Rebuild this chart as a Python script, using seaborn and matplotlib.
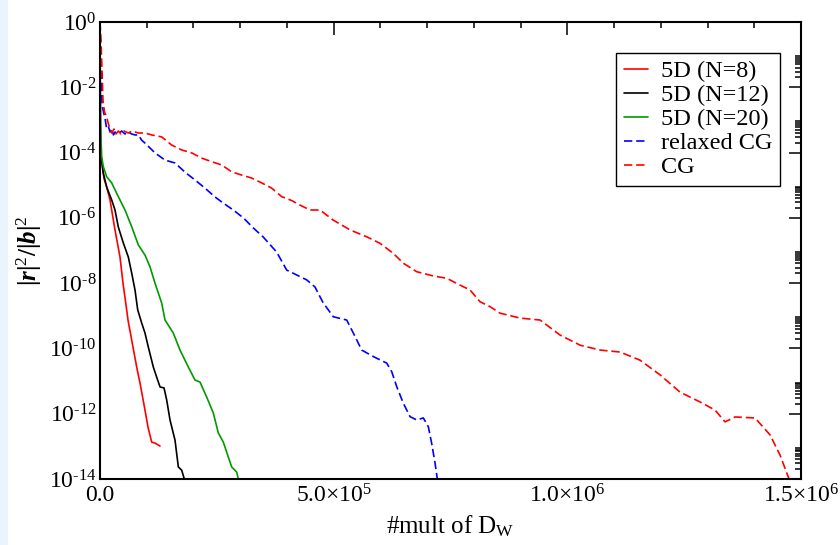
import numpy as np
import pandas as pd
import matplotlib
matplotlib.use("Agg")
import matplotlib.pyplot as plt
import seaborn as sns
from matplotlib.ticker import FixedLocator, MultipleLocator
from matplotlib.patches import Rectangle

# ---------------- data (x = number of D_W multiplications, y = log10 residual) -------------
x_n8 = [0, 1000, 3600, 8600, 14300, 21400, 32100, 42800, 49200, 57100, 59900, 67800,
        78500, 85600, 96300, 102700, 110600, 117700, 128400]
logy_n8 = [0.0, -3.9, -4.3, -4.8, -5.05, -5.45, -6.37, -7.2, -8.0, -8.82, -9.13, -9.74,
           -10.57, -11.06, -11.89, -12.41, -12.87, -12.9, -12.99]

x_n12 = [0, 1200, 7100, 14300, 25000, 32100, 39200, 49900, 60600, 67800, 74900, 80700,
         89200, 96300, 103400, 114100, 121300, 128400, 137000, 142700, 149800, 160500,
         167600, 174800, 180400]
logy_n12 = [0.0, -3.95, -4.63, -5.06, -5.45, -5.76, -6.28, -6.77, -7.2, -7.69, -8.21, -8.82,
            -9.22, -9.53, -9.96, -10.57, -10.88, -11.18, -11.21, -11.58, -12.19, -12.81,
            -13.63, -13.73, -14.0]

x_n20 = [0, 600, 3600, 7100, 14300, 25000, 39200, 53500, 67800, 82000, 96300, 107000,
         117700, 132000, 139100, 156900, 171200, 189000, 203300, 214000, 228300, 242500,
         253200, 263900, 274600, 281800, 292500, 296000]
logy_n20 = [0.0, -3.0, -4.13, -4.43, -4.74, -4.93, -5.35, -5.76, -6.27, -6.83, -7.14, -7.5,
            -8.0, -8.61, -9.13, -9.53, -10.05, -10.57, -10.97, -11.03, -11.49, -11.98,
            -12.59, -12.87, -13.33, -13.63, -13.79, -14.0]

x_rcg = [0, 2100, 4300, 7500, 10700, 13900, 17800, 21400, 25000, 28900, 32100, 38500,
         46400, 53500, 60600, 67800, 74900, 82000, 89200, 96300, 117700, 139100, 160500,
         181900, 203300, 224700, 246100, 263900, 285300, 306700, 328100, 349500, 378100,
         399500, 420900, 442300, 460100, 472300, 477900, 499300, 527900, 542100, 560000,
         584900, 613500, 624200, 634900, 649100, 663400, 677700, 691900, 702600, 709600,
         716900, 721800]
logy_rcg = [0.0, -1.47, -2.54, -2.76, -2.94, -3.25, -3.19, -3.37, -3.28, -3.46, -3.37, -3.43,
            -3.34, -3.43, -3.37, -3.43, -3.46, -3.46, -3.62, -3.71, -4.01, -4.23, -4.32,
            -4.6, -4.84, -5.09, -5.36, -5.55, -5.76, -6.0, -6.31, -6.59, -7.05,
            -7.6, -7.75, -7.9, -8.12, -8.46, -8.61, -9.03, -9.13, -9.53, -10.05,
            -10.25, -10.45, -10.71, -11.17, -11.68, -12.09, -12.19, -12.13, -12.4, -12.9,
            -13.51, -14.0]

x_cg = [0, 2100, 4300, 6400, 9600, 14300, 17800, 21400, 25000, 30000, 34200, 39200, 44900,
        51400, 60600, 68500, 82000, 96300, 110600, 132000, 153400, 174800, 196200, 217600,
        239000, 260400, 281800, 303200, 324600, 346000, 367400, 388800, 410200, 428000,
        449400, 470800, 499300, 535000, 570700, 599200, 627700, 649100, 677700, 713300,
        741900, 770400, 791800, 813200, 834600, 856000, 898800, 941600, 984400, 1027200,
        1070000, 1112800, 1155600, 1198400, 1241200, 1284000, 1316100, 1337500, 1358900,
        1401700, 1433800, 1455200, 1474400]
logy_cg = [0.0, -0.55, -1.47, -2.39, -2.76, -2.91, -3.12, -3.25, -3.40, -3.28, -3.43, -3.34,
           -3.43, -3.34, -3.40, -3.34, -3.40, -3.40, -3.46, -3.52, -3.77, -3.92, -4.01, -4.17,
           -4.28, -4.38, -4.59, -4.69, -4.78, -4.93, -5.09, -5.35, -5.47, -5.61,
           -5.76, -5.76, -6.07, -6.37, -6.58, -6.78, -7.09, -7.39, -7.65, -7.78,
           -7.85, -8.06, -8.21, -8.57, -8.72, -8.92, -9.07, -9.13, -9.59, -9.9,
           -10.05, -10.11, -10.36, -10.81, -11.34, -11.64, -11.89, -12.25, -12.10,
           -12.13, -12.65, -13.27, -14.0]

series_labels = ["5D (N=8)", "5D (N=12)", "5D (N=20)", "relaxed CG", "CG"]
x_ticks = [0, 5e5, 1e6, 1.5e6]
x_tick_labels = ["0.0", "5.0×10$^{5}$", "1.0×10$^{6}$", "1.5×10$^{6}$"]
y_tick_exps = [0, -2, -4, -6, -8, -10, -12, -14]

# ---------------- style ----------------
sns.set_theme(style="white")
plt.rcParams["font.family"] = ["Liberation Serif", "DejaVu Serif"]
plt.rcParams["mathtext.fontset"] = "custom"
plt.rcParams["mathtext.rm"] = "Liberation Serif"
plt.rcParams["mathtext.it"] = "Liberation Serif:italic"
plt.rcParams["mathtext.bf"] = "Liberation Serif:bold"
plt.rcParams["mathtext.bfit"] = "Liberation Serif:italic:bold"

fig = plt.figure(figsize=(8.4, 5.45), dpi=100)
fig.patch.set_facecolor("white")
fig.patches.append(Rectangle((0, 0), 8 / 840, 1, transform=fig.transFigure,
                             facecolor="#EAF4FC", edgecolor="none", zorder=-5))
ax = fig.add_axes([100 / 840, 1 - 479 / 545, 701 / 840, 457 / 545])
ax.set_facecolor("white")

specs = [
    (x_n8, logy_n8, "#ff0000", "-"),
    (x_n12, logy_n12, "#000000", "-"),
    (x_n20, logy_n20, "#009a00", "-"),
    (x_rcg, logy_rcg, "#0000ff", "--"),
    (x_cg, logy_cg, "#ff0000", "--"),
]
for (xs, ls_, col, sty), lab in zip(specs, series_labels):
    df = pd.DataFrame({"x": xs, "y": 10.0 ** np.asarray(ls_)})
    sns.lineplot(data=df, x="x", y="y", ax=ax, color=col, linestyle=sty, linewidth=1.2,
                 label=lab, estimator=None, sort=False)

for ln in ax.lines:
    if ln.get_linestyle() == "--":
        ln.set_dashes((5.0, 2.3))

ax.set_yscale("log")
ax.set_xlim(0, 1.5e6)
ax.set_ylim(1e-14, 1)

ax.set_xticks(x_ticks)
ax.set_xticklabels(x_tick_labels)
ax.xaxis.set_minor_locator(MultipleLocator(1e5))
ax.yaxis.set_major_locator(FixedLocator([10.0 ** e for e in y_tick_exps]))
ax.set_yticklabels([r"$10^{0}$"] + [r"$10^{\text{-}%d}$" % (-e) for e in y_tick_exps[1:]])
minor_y = [j * 10.0 ** e for e in y_tick_exps[1:] for j in range(2, 10)]
ax.yaxis.set_minor_locator(FixedLocator(minor_y))
ax.yaxis.set_minor_formatter(plt.NullFormatter())

ax.tick_params(which="both", direction="in", top=True, right=True, colors="black",
               width=1.1, labelsize=17)
ax.tick_params(which="major", length=9)
ax.tick_params(which="minor", length=4.5)
ax.tick_params(axis="x", which="major", pad=4)
ax.tick_params(axis="y", which="major", pad=2.5)
for sp in ax.spines.values():
    sp.set_color("black")
    sp.set_linewidth(1.5)

ax.set_xlabel(r"#mult of D$_{\mathrm{W}}$", fontsize=18, color="black")
ax.xaxis.set_label_coords(0.5, -0.075)
ax.set_ylabel(r"$\mathbf{|}\mathbfit{r}\mathbf{|}^{2}\mathbf{/|}\mathbfit{b}\mathbf{|}^{2}$",
              fontsize=18, color="black")
ax.yaxis.set_label_coords(-0.08, 0.5)

leg = ax.legend(loc="upper right", bbox_to_anchor=(0.970, 0.932), borderaxespad=0,
                fontsize=17.5, frameon=True, fancybox=False, framealpha=1,
                edgecolor="black", handlelength=1.0, handletextpad=0.55,
                borderpad=0.3, labelspacing=0.08)
leg.get_frame().set_linewidth(1.0)
for t in leg.get_texts():
    t.set_color("black")

fig.savefig("out.png", dpi=100)
